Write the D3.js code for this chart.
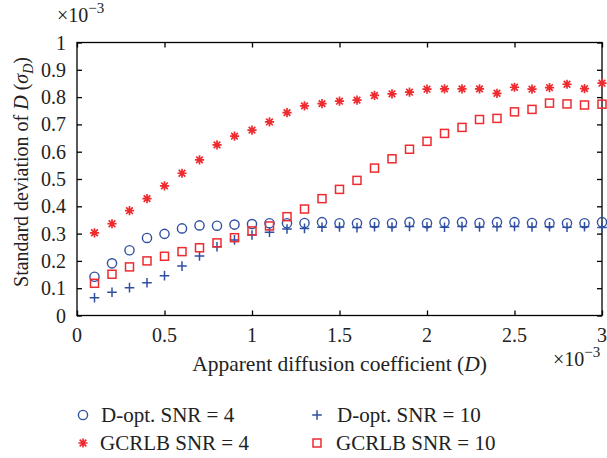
<!DOCTYPE html>
<html><head><meta charset="utf-8">
<script src="https://cdn.jsdelivr.net/npm/d3@7"></script>
<style>body{margin:0;background:#fff}svg{display:block}</style>
</head><body><svg id="c" width="607" height="458"></svg>
<script>
const xValues = [0.1,0.2,0.3,0.4,0.5,0.6,0.7,0.8,0.9,1.0,1.1,1.2,1.3,1.4,1.5,1.6,1.7,1.8,1.9,2.0,2.1,2.2,2.3,2.4,2.5,2.6,2.7,2.8,2.9,3.0];
const doptSNR4 = [0.142,0.191,0.239,0.284,0.299,0.319,0.330,0.329,0.333,0.335,0.338,0.338,0.339,0.342,0.338,0.338,0.339,0.338,0.342,0.338,0.342,0.342,0.339,0.342,0.342,0.339,0.338,0.338,0.338,0.342];
const gcrlbSNR4 = [0.303,0.336,0.384,0.428,0.475,0.521,0.570,0.625,0.657,0.679,0.709,0.743,0.768,0.776,0.785,0.789,0.806,0.812,0.818,0.829,0.830,0.830,0.830,0.814,0.836,0.829,0.835,0.847,0.831,0.851];
const doptSNR10 = [0.065,0.085,0.102,0.120,0.146,0.181,0.218,0.252,0.277,0.295,0.305,0.317,0.319,0.323,0.324,0.322,0.325,0.324,0.326,0.325,0.323,0.326,0.324,0.325,0.326,0.324,0.325,0.323,0.325,0.322];
const gcrlbSNR10 = [0.118,0.151,0.178,0.200,0.217,0.234,0.248,0.266,0.285,0.310,0.328,0.362,0.390,0.428,0.462,0.495,0.540,0.574,0.609,0.638,0.667,0.689,0.718,0.722,0.746,0.755,0.778,0.775,0.771,0.774];
const xTicks = [0,0.5,1,1.5,2,2.5,3];
const xTickLabels = ["0","0.5","1","1.5","2","2.5","3"];
const yTicks = [0,0.1,0.2,0.3,0.4,0.5,0.6,0.7,0.8,0.9,1];
const yTickLabels = ["0","0.1","0.2","0.3","0.4","0.5","0.6","0.7","0.8","0.9","1"];
const legendLabels = ["D-opt. SNR = 4","GCRLB SNR = 4","D-opt. SNR = 10","GCRLB SNR = 10"];

const BLUE = "#2f4fa3", RED = "#ee2b2f";
const FONT = "'Liberation Serif','DejaVu Serif',serif";
const svg = d3.select("#c");
const L = 77, R = 602, T = 42.5, B = 315.5;
const x = d3.scaleLinear().domain([0,3]).range([L,R]);
const y = d3.scaleLinear().domain([0,1]).range([B,T]);

// frame
svg.append("rect").attr("x",L).attr("y",T).attr("width",R-L).attr("height",B-T)
  .attr("fill","none").attr("stroke","#000").attr("stroke-width",1.3);

const tk = 5;
// inward ticks via axes
svg.append("g").attr("transform",`translate(0,${B})`)
  .call(d3.axisTop(x).tickValues(xTicks).tickSize(tk).tickFormat(""))
  .call(g=>{g.select(".domain").remove();g.selectAll("line").attr("stroke","#000").attr("stroke-width",1.3);});
svg.append("g").attr("transform",`translate(0,${T})`)
  .call(d3.axisBottom(x).tickValues(xTicks).tickSize(tk).tickFormat(""))
  .call(g=>{g.select(".domain").remove();g.selectAll("line").attr("stroke","#000").attr("stroke-width",1.3);});
svg.append("g").attr("transform",`translate(${L},0)`)
  .call(d3.axisRight(y).tickValues(yTicks).tickSize(tk).tickFormat(""))
  .call(g=>{g.select(".domain").remove();g.selectAll("line").attr("stroke","#000").attr("stroke-width",1.3);});
svg.append("g").attr("transform",`translate(${R},0)`)
  .call(d3.axisLeft(y).tickValues(yTicks).tickSize(tk).tickFormat(""))
  .call(g=>{g.select(".domain").remove();g.selectAll("line").attr("stroke","#000").attr("stroke-width",1.3);});

// tick labels
svg.append("g").selectAll("text").data(xTicks).join("text")
  .attr("x",d=>x(d)).attr("y",B+26).attr("text-anchor","middle")
  .attr("font-family",FONT).attr("font-size",20).attr("fill","#222")
  .text((d,i)=>xTickLabels[i]);
svg.append("g").selectAll("text").data(yTicks).join("text")
  .attr("x",L-11).attr("y",d=>y(d)+7).attr("text-anchor","end")
  .attr("font-family",FONT).attr("font-size",20).attr("fill","#222")
  .text((d,i)=>yTickLabels[i]);

// exponent labels
function expo(tx,ty){
  const t = svg.append("text").attr("x",tx).attr("y",ty).attr("font-family",FONT).attr("font-size",20).attr("fill","#222");
  t.append("tspan").text("×10");
  t.append("tspan").attr("dy",-9).attr("font-size",15).text("−3");
}
expo(57,22);
expo(553,366);

// axis titles
const xt = svg.append("text").attr("x",(L+R)/2).attr("y",371).attr("text-anchor","middle")
  .attr("font-family",FONT).attr("font-size",21.5).attr("fill","#222");
xt.append("tspan").text("Apparent diffusion coefficient (");
xt.append("tspan").attr("font-style","italic").text("D");
xt.append("tspan").text(")");

const yt = svg.append("text").attr("transform",`translate(28,${(T+B)/2-7}) rotate(-90)`).attr("text-anchor","middle")
  .attr("font-family",FONT).attr("font-size",20).attr("fill","#222");
yt.append("tspan").text("Standard deviation of ");
yt.append("tspan").attr("font-style","italic").text("D");
yt.append("tspan").text(" (");
yt.append("tspan").attr("font-style","italic").text("σ");
yt.append("tspan").attr("font-style","italic").attr("font-size",14).attr("dy",5).text("D");
yt.append("tspan").attr("dy",-5).text(")");

// markers
function drawMarker(g, type){
  if(type==="circle"){
    g.append("circle").attr("r",4.6).attr("fill","none").attr("stroke",BLUE).attr("stroke-width",1.4);
  } else if(type==="plus"){
    g.append("path").attr("d","M-4.8,0H4.8M0,-4.8V4.8").attr("stroke",BLUE).attr("stroke-width",1.5);
  } else if(type==="square"){
    g.append("rect").attr("x",-4).attr("y",-4).attr("width",8).attr("height",8)
      .attr("fill","none").attr("stroke",RED).attr("stroke-width",1.5);
  } else if(type==="star"){
    const r=4.6, d=r*0.72;
    g.append("path").attr("d",`M${-r},0H${r}M0,${-r}V${r}M${-d},${-d}L${d},${d}M${-d},${d}L${d},${-d}`)
      .attr("stroke",RED).attr("stroke-width",1.7);
    g.append("circle").attr("r",2).attr("fill",RED);
  }
}
const series = [
  {vals: doptSNR4, type:"circle"},
  {vals: gcrlbSNR4, type:"star"},
  {vals: doptSNR10, type:"plus"},
  {vals: gcrlbSNR10, type:"square"}
];
series.forEach(s=>{
  svg.append("g").selectAll("g").data(s.vals).join("g")
    .attr("transform",(d,i)=>`translate(${x(xValues[i])},${y(d)})`)
    .each(function(){ drawMarker(d3.select(this), s.type); });
});

// legend
const legendItems = [
  {type:"circle", mx:83, my:415, tx:101},
  {type:"star", mx:83, my:443, tx:100},
  {type:"plus", mx:317, my:415, tx:337},
  {type:"square", mx:317, my:443, tx:336}
];
legendItems.forEach((it,i)=>{
  const g = svg.append("g").attr("transform",`translate(${it.mx},${it.my})`);
  drawMarker(g, it.type);
  svg.append("text").attr("x",it.tx).attr("y",it.my+7).attr("font-family",FONT)
    .attr("font-size",21).attr("fill","#222").text(legendLabels[i]);
});
</script>
</body></html>
